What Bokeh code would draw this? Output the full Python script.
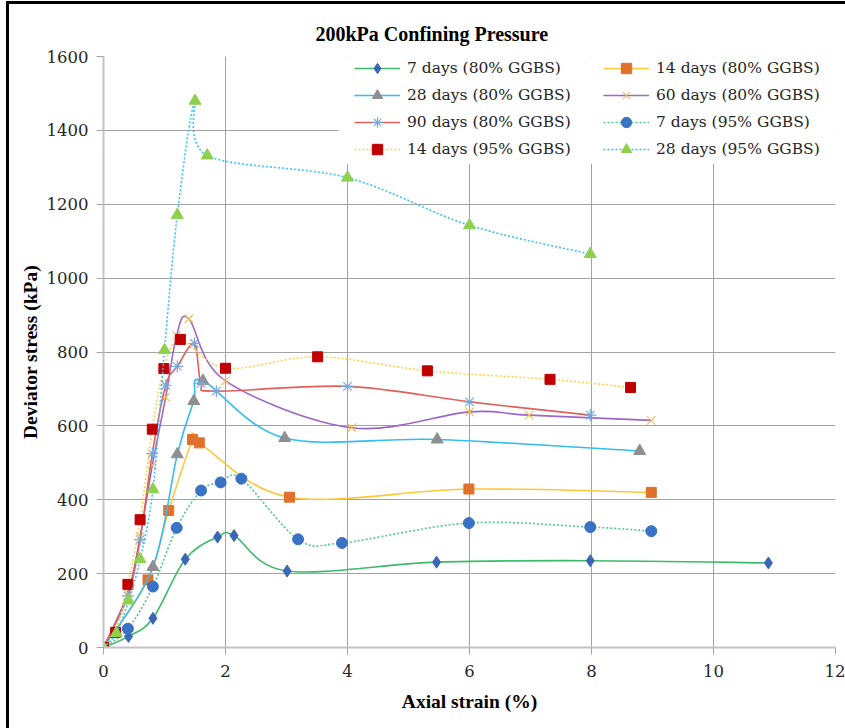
import numpy as np
from bokeh.plotting import figure
from bokeh.models import Range1d, FixedTicker, Legend, LegendItem, BoxAnnotation, Spacer
from bokeh.layouts import column, row
from bokeh.embed import file_html
from bokeh.resources import INLINE

# ---------------- data ----------------
x_ticks = [0, 2, 4, 6, 8, 10, 12]
y_ticks = [0, 200, 400, 600, 800, 1000, 1200, 1400, 1600]

labels = ["7 days (80% GGBS)", "14 days (80% GGBS)", "28 days (80% GGBS)",
          "60 days (80% GGBS)", "90 days (80% GGBS)", "7 days (95% GGBS)",
          "14 days (95% GGBS)", "28 days (95% GGBS)"]

d7_80_x = [0, 0.41, 0.81, 1.34, 1.87, 2.14, 3.01, 5.46, 7.98, 10.9]
d7_80_y = [0, 30, 79, 239, 299, 303, 207, 231, 235, 229]

d14_80_x = [0, 0.73, 1.07, 1.46, 1.57, 3.05, 5.99, 8.98]
d14_80_y = [0, 183, 371, 563, 554, 407, 429, 420]

d28_80_x = [0, 0.81, 1.21, 1.48, 1.63, 2.97, 5.47, 8.79]
d28_80_y = [0, 218, 523, 667, 722, 567, 563, 532]

d60_80_x = [0, 0.40, 0.60, 0.80, 1.02, 1.20, 1.40, 2.00, 4.07, 6.00, 6.98, 8.98]
d60_80_y = [0, 148, 300, 493, 678, 845, 890, 722, 595, 638, 629, 615]

d90_80_x = [0, 0.40, 0.60, 0.80, 1.02, 1.21, 1.49, 1.60, 1.85, 4.00, 6.00, 7.98]
d90_80_y = [0, 140, 292, 525, 710, 761, 823, 715, 694, 707, 665, 629]

d7_95_x = [0, 0.40, 0.81, 1.20, 1.60, 1.92, 2.26, 3.19, 3.91, 5.99, 7.98, 8.98]
d7_95_y = [0, 51, 165, 324, 425, 447, 457, 293, 283, 337, 326, 315]

d14_95_x = [0, 0.20, 0.40, 0.60, 0.80, 0.99, 1.26, 2.00, 3.51, 5.31, 7.32, 8.64]
d14_95_y = [0, 41, 171, 346, 591, 755, 834, 756, 787, 749, 726, 704]

d28_95_x = [0, 0.21, 0.41, 0.60, 0.81, 1.00, 1.21, 1.50, 1.70, 4.00, 6.00, 7.98]
d28_95_y = [0, 39, 127, 239, 428, 805, 1171, 1480, 1332, 1272, 1143, 1065]

series_x = [d7_80_x, d14_80_x, d28_80_x, d60_80_x, d90_80_x, d7_95_x, d14_95_x, d28_95_x]
series_y = [d7_80_y, d14_80_y, d28_80_y, d60_80_y, d90_80_y, d7_95_y, d14_95_y, d28_95_y]

title_text = "200kPa Confining Pressure"
x_label = "Axial strain (%)"
y_label = "Deviator stress (kPa)"

# ---------------- styles ----------------
styles = [
    dict(line="#3dbb6c", dash="solid", marker="diamond", size=12, fill="#3a66b6", mline="#3a66b6"),
    dict(line="#ffc83a", dash="solid", marker="square", size=10, fill="#e0712a", mline="#e0712a"),
    dict(line="#35bdf0", dash="solid", marker="triangle", size=12, fill="#8f8f8f", mline="#8f8f8f"),
    dict(line="#9a68c8", dash="solid", marker="x", size=12, fill=None, mline="#f3bd58"),
    dict(line="#e0605c", dash="solid", marker="asterisk", size=12, fill=None, mline="#76a8dc"),
    dict(line="#4cc98a", dash="2 2", marker="circle", size=11, fill="#3a72c6", mline="#3a72c6"),
    dict(line="#ffd24d", dash="2 2", marker="square", size=10, fill="#c00000", mline="#c00000"),
    dict(line="#35c4f6", dash="2 2", marker="triangle", size=12, fill="#8fd14f", mline="#8fd14f"),
]

SERIF = "DejaVu Serif"
BOLD = "Liberation Serif"


def bezier_segments(xs, ys):
    x = np.asarray(xs, float)
    y = np.asarray(ys, float)
    n = len(x)
    xp = np.concatenate([[x[0]], x, [x[-1]]])
    yp = np.concatenate([[y[0]], y, [y[-1]]])
    cx0 = x[:-1] + (xp[2:n + 1] - xp[0:n - 1]) / 6.0
    cy0 = y[:-1] + (yp[2:n + 1] - yp[0:n - 1]) / 6.0
    cx1 = x[1:] - (xp[3:n + 2] - xp[1:n]) / 6.0
    cy1 = y[1:] - (yp[3:n + 2] - yp[1:n]) / 6.0
    return dict(x0=x[:-1], y0=y[:-1], x1=x[1:], y1=y[1:], cx0=cx0, cy0=cy0, cx1=cx1, cy1=cy1)


p = figure(width=836, height=724, output_backend="svg", toolbar_location=None,
           x_range=Range1d(0, 12), y_range=Range1d(0, 1600),
           min_border_left=94, min_border_right=10, min_border_top=52, min_border_bottom=81,
           title=title_text)
p.outline_line_color = None
p.background_fill_color = "white"
p.border_fill_color = "white"

p.title.align = "left"
p.title.offset = 212
p.title.text_font = BOLD
p.title.text_font_style = "bold"
p.title.text_font_size = "20px"
p.title.text_color = "black"
p.title.standoff = 23

for ax in (p.xaxis[0], p.yaxis[0]):
    ax.axis_line_color = "#c4c4c4"
    ax.axis_line_width = 2
    ax.major_tick_line_color = "#a6a6a6"
    ax.major_tick_in = 0
    ax.major_tick_out = 7
    ax.minor_tick_line_color = None
    ax.major_label_text_font = SERIF
    ax.major_label_text_font_size = "16.5px"
    ax.major_label_text_color = "#262626"
    ax.axis_label_text_font = BOLD
    ax.axis_label_text_font_style = "bold"
    ax.axis_label_text_font_size = "19.5px"
    ax.axis_label_text_color = "black"

p.xaxis.ticker = FixedTicker(ticks=x_ticks)
p.yaxis.ticker = FixedTicker(ticks=y_ticks)
p.xaxis.axis_label = x_label
p.yaxis.axis_label = y_label
p.xaxis.major_label_standoff = 10
p.yaxis.major_label_standoff = 8
p.xaxis.axis_label_standoff = 11
p.yaxis.axis_label_standoff = 3

p.xgrid.ticker = FixedTicker(ticks=x_ticks)
p.ygrid.ticker = FixedTicker(ticks=y_ticks)
p.grid.grid_line_color = "#a3a3a3"
p.grid.grid_line_width = 1

# white area behind the legend (covers grid lines)
p.add_layout(BoxAnnotation(left=3.85, bottom=1309, fill_color="white", fill_alpha=1.0,
                           line_color=None, level="underlay"))

items = []
for xs, ys, st, lab in zip(series_x, series_y, styles, labels):
    seg = bezier_segments(xs, ys)
    bz = p.bezier(line_color=st["line"], line_width=1.6, line_dash=st["dash"], **seg)
    kw = dict(marker=st["marker"], size=st["size"], line_color=st["mline"])
    if st["fill"] is None:
        kw["fill_color"] = None
        kw["line_width"] = 1.2
    else:
        kw["fill_color"] = st["fill"]
        kw["line_width"] = 1
    sc = p.scatter(xs, ys, **kw)
    items.append(LegendItem(label=lab, renderers=[bz, sc]))


def make_legend(its, vx):
    lg = Legend(items=its, location=(vx, 485), orientation="vertical")
    lg.border_line_color = None
    lg.background_fill_alpha = 0
    lg.padding = 0
    lg.margin = 0
    lg.spacing = 1
    lg.glyph_width = 46
    lg.glyph_height = 26
    lg.label_height = 20
    lg.label_standoff = 7
    lg.label_text_font = SERIF
    lg.label_text_font_size = "15.5px"
    lg.label_text_color = "#262626"
    return lg


p.add_layout(make_legend([items[0], items[2], items[4], items[6]], 251))
p.add_layout(make_legend([items[1], items[3], items[5], items[7]], 500))

black = {"background-color": "black"}
layout = column(
    Spacer(width=845, height=1),
    row(Spacer(width=6, height=3), Spacer(width=839, height=3, styles=black)),
    row(Spacer(width=6, height=724), Spacer(width=3, height=724, styles=black), p),
)

open("out.html", "w").write(file_html(layout, INLINE))
